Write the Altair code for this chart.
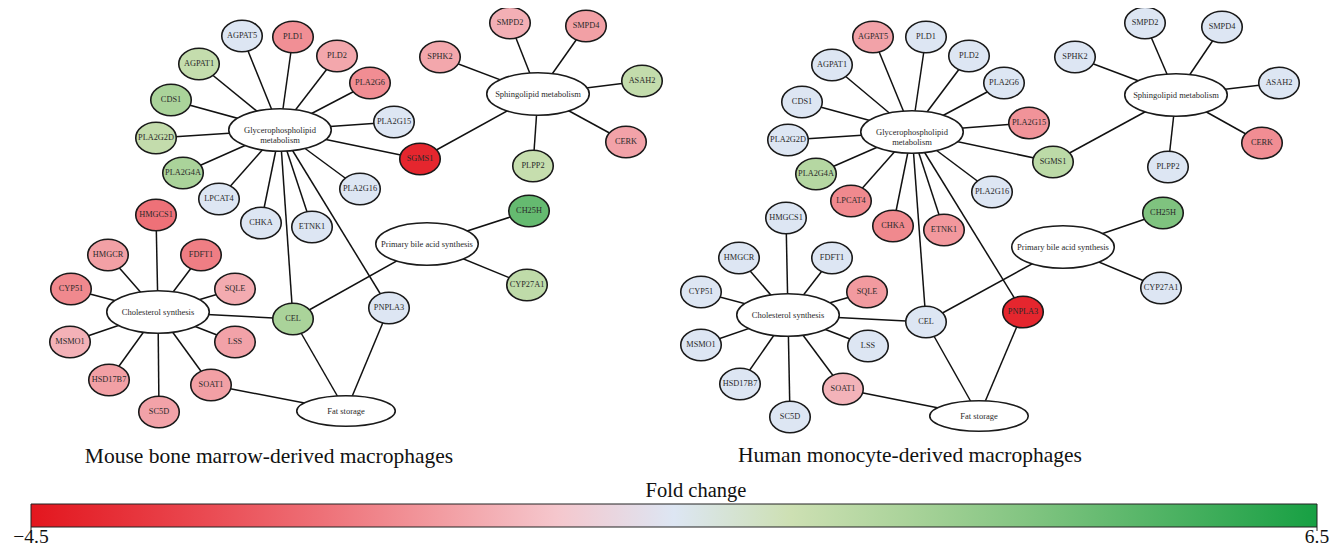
import altair as alt
import pandas as pd

FONT = "Liberation Serif"

# ---------------- data ----------------
GENES = ["AGPAT5", "PLD1", "PLD2", "PLA2G6", "PLA2G15", "SGMS1", "PLA2G16", "ETNK1",
         "CHKA", "LPCAT4", "PLA2G4A", "PLA2G2D", "CDS1", "AGPAT1", "CEL", "PNPLA3",
         "SPHK2", "SMPD2", "SMPD4", "ASAH2", "CERK", "PLPP2", "CH25H", "CYP27A1",
         "HMGCS1", "HMGCR", "FDFT1", "CYP51", "SQLE", "MSMO1", "LSS", "HSD17B7",
         "SOAT1", "SC5D"]

# network layout (pixel positions of the node centres)
MOUSE_X = [242, 293, 337, 370, 394, 420, 360, 312, 261, 219, 183, 156, 171, 199, 293, 389,
           440, 510, 586, 642, 626, 533, 529, 527, 156, 108, 201, 71, 235, 70, 235, 109, 211, 159]
MOUSE_Y = [36, 37, 56, 83, 122, 159, 189, 227, 223, 199, 173, 138, 100, 64, 319, 308,
           57, 23, 26, 81, 142, 166, 211, 285, 215, 255, 255, 289, 289, 342, 342, 380, 385, 412]
HUMAN_X = [873, 926, 969, 1004, 1029, 1053, 992, 944, 893, 851, 816, 788, 802, 832, 926, 1023,
           1075, 1145, 1222, 1279, 1262, 1168, 1163, 1161, 786, 739, 832, 701, 867, 701, 868, 740, 843, 790]
HUMAN_Y = [37, 37, 56, 83, 123, 162, 192, 230, 226, 201, 174, 140, 102, 65, 322, 312,
           57, 23, 27, 83, 143, 167, 213, 288, 218, 258, 258, 292, 292, 345, 346, 384, 389, 417]

# fold change per gene
MOUSE_FC = [1.0, -1.3, -0.75, -1.35, 1.0, -4.05, 1.0, 1.0, 1.0, 1.0, 3.0, 2.3, 3.0, 2.25, 3.0, 1.0,
            -0.75, -0.55, -0.9, 2.3, -0.85, 2.2, 4.7, 2.4, -2.0, -0.9, -1.7, -1.45, -0.65, -0.5,
            -0.85, -0.9, -0.9, -0.85]
HUMAN_FC = [-0.85, 1.0, 1.0, 1.0, -1.2, 2.5, 1.0, -1.1, -1.45, -1.45, 2.7, 1.0, 1.0, 1.0, 1.0, -4.05,
            1.0, 1.0, 1.0, 1.0, -1.35, 1.0, 4.1, 1.0, 1.0, 1.0, 1.0, 1.0, -1.05, 1.0,
            1.0, 1.0, -0.45, 1.0]

HUB_KEYS = ["glyco", "sphingo", "bile", "chol", "fat"]
HUB_LABELS = ["Glycerophospholipid\nmetabolism", "Sphingolipid metabolism",
              "Primary bile acid synthesis", "Cholesterol synthesis", "Fat storage"]
MOUSE_HUB_X = [280, 538, 427, 158, 346]
MOUSE_HUB_Y = [130, 94, 244, 312, 411]
HUMAN_HUB_X = [912, 1176, 1063, 788, 979]
HUMAN_HUB_Y = [132, 95, 247, 315, 416]

EDGES = {
    "glyco": ["AGPAT5", "PLD1", "PLD2", "PLA2G6", "PLA2G15", "SGMS1", "PLA2G16", "ETNK1",
              "CHKA", "LPCAT4", "PLA2G4A", "PLA2G2D", "CDS1", "AGPAT1", "CEL", "PNPLA3"],
    "sphingo": ["SPHK2", "SMPD2", "SMPD4", "ASAH2", "CERK", "PLPP2", "SGMS1"],
    "bile": ["CH25H", "CYP27A1", "CEL"],
    "chol": ["HMGCS1", "HMGCR", "FDFT1", "CYP51", "SQLE", "MSMO1", "LSS", "HSD17B7",
             "SOAT1", "SC5D", "CEL"],
    "fat": ["CEL", "PNPLA3", "SOAT1"],
}

PANELS = ["mouse", "human"]
PANEL_TITLES = ["Mouse bone marrow-derived macrophages", "Human monocyte-derived macrophages"]
PANEL_TITLE_X = [269, 910]
PANEL_TITLE_Y = [463, 462]

LEGEND_TITLE = "Fold change"
LEGEND_TITLE_X = 696
LEGEND_TITLE_Y = 497

FC_STOPS = [-4.5, -2.5, -1.0, 0.2, 1.0, 1.8, 3.5, 6.5]
FC_COLORS = ["#e3161e", "#ec5b63", "#f29ca1", "#f5cfd6", "#dde6f3", "#d4e3b8", "#99cc8e", "#17a043"]
FC_TICKS = [-4.5, 6.5]

# ---------------- tables ----------------
genes = pd.concat([
    pd.DataFrame({"panel": "mouse", "name": GENES, "x": MOUSE_X, "y": MOUSE_Y, "fc": MOUSE_FC}),
    pd.DataFrame({"panel": "human", "name": GENES, "x": HUMAN_X, "y": HUMAN_Y, "fc": HUMAN_FC}),
], ignore_index=True)

hubs = pd.concat([
    pd.DataFrame({"panel": "mouse", "key": HUB_KEYS, "label": HUB_LABELS, "x": MOUSE_HUB_X, "y": MOUSE_HUB_Y}),
    pd.DataFrame({"panel": "human", "key": HUB_KEYS, "label": HUB_LABELS, "x": HUMAN_HUB_X, "y": HUMAN_HUB_Y}),
], ignore_index=True)


def ellipse_path(ry):
    k = 0.5523
    return (f"M-1,0 C-1,{-k*ry:.4f} {-k:.4f},{-ry:.4f} 0,{-ry:.4f} "
            f"C{k:.4f},{-ry:.4f} 1,{-k*ry:.4f} 1,0 "
            f"C1,{k*ry:.4f} {k:.4f},{ry:.4f} 0,{ry:.4f} "
            f"C{-k:.4f},{ry:.4f} -1,{k*ry:.4f} -1,0 Z")


# hub ellipse styling (outer width, height)
HUB_STYLE = {"fat": (98.5, 30.5)}
DEFAULT_HUB = (102.5, 42.5)
hubs["shape"] = [ellipse_path(HUB_STYLE.get(k, DEFAULT_HUB)[1] / HUB_STYLE.get(k, DEFAULT_HUB)[0]) for k in hubs["key"]]
hubs["size"] = [HUB_STYLE.get(k, DEFAULT_HUB)[0] ** 2 for k in hubs["key"]]

pos = {}
for _, r in genes.iterrows():
    pos[(r.panel, r["name"])] = (r.x, r.y)
for _, r in hubs.iterrows():
    pos[(r.panel, r.key)] = (r.x, r.y)

rows = []
for p in PANELS:
    for hub, targets in EDGES.items():
        for t in targets:
            (x1, y1), (x2, y2) = pos[(p, hub)], pos[(p, t)]
            rows.append({"panel": p, "x": x1, "y": y1, "x2": x2, "y2": y2})
edges = pd.DataFrame(rows)

titles = pd.DataFrame({"label": PANEL_TITLES, "x": PANEL_TITLE_X, "y": PANEL_TITLE_Y})
legend_title = pd.DataFrame({"label": [LEGEND_TITLE], "x": [LEGEND_TITLE_X], "y": [LEGEND_TITLE_Y]})

# colour bar geometry (page pixels) -> tick label positions from the fold-change values
BAR_X0, BAR_LEN, BAR_TOP, BAR_THICK = 31, 1286, 504, 23
fc_lo, fc_hi = FC_STOPS[0], FC_STOPS[-1]
ticks = pd.DataFrame({"v": FC_TICKS})
ticks["x"] = BAR_X0 + (ticks["v"] - fc_lo) / (fc_hi - fc_lo) * BAR_LEN
ticks["label"] = [f"{v:g}".replace("-", "\u2212") for v in FC_TICKS]
ticks["y"] = BAR_TOP + BAR_THICK
ticks["y2"] = BAR_TOP + BAR_THICK + 4
ticks["ty"] = 543

# ---------------- chart ----------------
W, H = 1322, 540
xs = alt.Scale(domain=[8, 8 + W], nice=False, zero=False)
ys = alt.Scale(domain=[8, 8 + H], nice=False, zero=False, reverse=True)
X = lambda f="x": alt.X(f"{f}:Q", scale=xs, axis=None)
Y = lambda f="y": alt.Y(f"{f}:Q", scale=ys, axis=None)

edge_layer = alt.Chart(edges).mark_rule(color="#111111", strokeWidth=1.5).encode(
    x=X(), y=Y(), x2="x2:Q", y2="y2:Q")

hub_layer = alt.Chart(hubs).mark_point(
    filled=True, fill="white", stroke="#1a1a1a", strokeWidth=1.6, opacity=1
).encode(x=X(), y=Y(), shape=alt.Shape("shape:N", scale=None, legend=None),
         size=alt.Size("size:Q", scale=None, legend=None))

gene_w, gene_h = 40.5, 31.5
gene_layer = alt.Chart(genes).mark_point(
    filled=True, shape=ellipse_path(gene_h / gene_w), size=gene_w ** 2,
    stroke="#1a1a1a", strokeWidth=1.6, opacity=1, fillOpacity=1
).encode(
    x=X(), y=Y(),
    fill=alt.Fill("fc:Q",
                  scale=alt.Scale(domain=FC_STOPS, range=FC_COLORS, interpolate="rgb", clamp=True),
                  legend=alt.Legend(title=None, values=FC_TICKS, orient="none",
                                    legendX=BAR_X0 - 8, legendY=BAR_TOP - 8, direction="horizontal",
                                    gradientLength=BAR_LEN, gradientThickness=BAR_THICK,
                                    labelExpr="''")),
)

gene_text = alt.Chart(genes).mark_text(font=FONT, fontSize=8.3, color="#2a2a2a").encode(
    x=X(), y=Y(), text="name:N")

hub_text = alt.Chart(hubs).mark_text(font=FONT, fontSize=8.5, color="#2a2a2a",
                                     lineBreak="\n", lineHeight=10).encode(
    x=X(), y=Y(), text="label:N")

title_text = alt.Chart(titles).mark_text(font=FONT, fontSize=21.5, color="#111111",
                                         baseline="alphabetic").encode(
    x=X(), y=Y(), text="label:N")

legend_title_text = alt.Chart(legend_title).mark_text(font=FONT, fontSize=20.5, color="#111111",
                                                      baseline="alphabetic").encode(
    x=X(), y=Y(), text="label:N")

tick_rules = alt.Chart(ticks).mark_rule(color="#222222", strokeWidth=1).encode(
    x=X(), y=Y(), y2="y2:Q")

tick_text = alt.Chart(ticks).mark_text(font=FONT, fontSize=19.5, color="#111111",
                                       baseline="alphabetic").encode(
    x=X(), y=Y("ty"), text="label:N")

chart = alt.layer(edge_layer, hub_layer, gene_layer, gene_text, hub_text, title_text,
                  legend_title_text, tick_rules, tick_text).properties(
    width=W, height=H, padding=0, autosize=alt.AutoSizeParams(type="none")
).configure_view(stroke=None).configure_legend(
    gradientHorizontalMaxLength=1400,
    gradientStrokeColor="#222222", gradientStrokeWidth=1,
)

chart.save("out.html", embed_options={"renderer": "svg", "actions": False})
